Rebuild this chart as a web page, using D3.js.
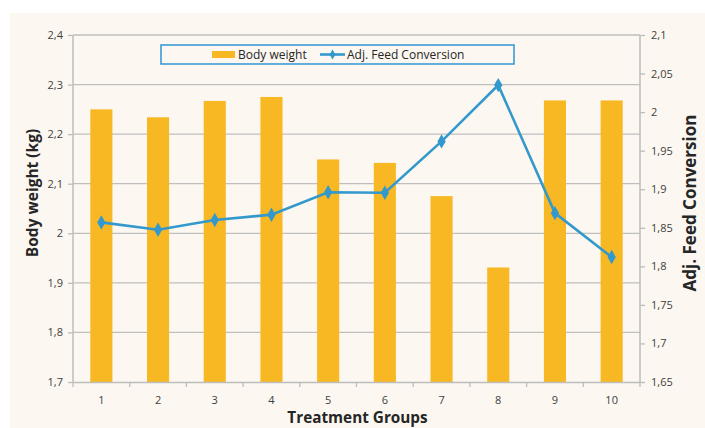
<!DOCTYPE html>
<html>
<head>
<meta charset="utf-8">
<title>Body weight and Adj. Feed Conversion</title>
<style>
  body { margin: 0; background: #fff; }
  svg { display: block; font-family: "Open Sans", "Noto Sans", sans-serif; }
  .tick text { fill: #404040; font-size: 11px; }
</style>
</head>
<body>
<svg width="705" height="428"></svg>
<script src="https://cdn.jsdelivr.net/npm/d3@7"></script>
<script>

var groups = ["1", "2", "3", "4", "5", "6", "7", "8", "9", "10"];
var bodyWeight = [2.250, 2.234, 2.267, 2.275, 2.149, 2.142, 2.075, 1.931, 2.268, 2.268];
var feedConversion = [1.857, 1.8475, 1.860, 1.867, 1.896, 1.8955, 1.962, 2.035, 1.869, 1.812];
var leftTicks = [1.7, 1.8, 1.9, 2.0, 2.1, 2.2, 2.3, 2.4];
var rightTicks = [1.65, 1.7, 1.75, 1.8, 1.85, 1.9, 1.95, 2.0, 2.05, 2.1];

var svg = d3.select("svg"),
    margin = { left: 73, right: 65, top: 35, bottom: 46 },
    width = 705 - margin.left - margin.right,
    height = 428 - margin.top - margin.bottom;

var fmt = function(d) { return String(+d.toFixed(2)).replace(".", ","); };

svg.append("rect")
    .attr("x", 10).attr("y", 13)
    .attr("width", 695).attr("height", 415)
    .attr("fill", "#fcf8f1");

var x = d3.scaleBand().domain(groups).range([0, width]).paddingInner(0.61).paddingOuter(0.305),
    xs = d3.scaleBand().domain(groups).range([0, width]),
    yL = d3.scaleLinear().domain([1.7, 2.4]).range([height, 0]),
    yR = d3.scaleLinear().domain([1.65, 2.1]).range([height, 0]);

var g = svg.append("g").attr("transform", "translate(" + margin.left + "," + margin.top + ")");

// gridlines
g.selectAll(".grid").data(leftTicks.slice(1)).enter().append("line")
    .attr("x1", 0).attr("x2", width)
    .attr("y1", function(d) { return yL(d); })
    .attr("y2", function(d) { return yL(d); })
    .attr("stroke", "#bfbfbf").attr("stroke-width", 1.3);

// bars
g.selectAll(".bar").data(bodyWeight).enter().append("rect")
    .attr("x", function(d, i) { return x(groups[i]); })
    .attr("width", x.bandwidth())
    .attr("y", function(d) { return yL(d); })
    .attr("height", function(d) { return height - yL(d); })
    .attr("fill", "#f8b823");

// axes
var axisColor = "#bdbdbd";
var gl = g.append("g").call(d3.axisLeft(yL).tickValues(leftTicks).tickFormat(fmt).tickSize(5).tickPadding(5));
var gr = g.append("g").attr("transform", "translate(" + width + ",0)")
    .call(d3.axisRight(yR).tickValues(rightTicks).tickFormat(fmt).tickSize(5).tickPadding(6));
var gx = g.append("g").attr("transform", "translate(0," + height + ")")
    .call(d3.axisBottom(xs).tickSize(0).tickPadding(14));

// bottom tick marks at band boundaries
g.selectAll(".xt").data(d3.range(groups.length + 1)).enter().append("line")
    .attr("x1", function(i) { return i * xs.step(); })
    .attr("x2", function(i) { return i * xs.step(); })
    .attr("y1", height).attr("y2", height + 5)
    .attr("stroke", axisColor).attr("stroke-width", 1.3);

[gl, gr, gx].forEach(function(a) {
    a.select(".domain").attr("stroke", axisColor).attr("stroke-width", 1.5);
    a.selectAll(".tick line").attr("stroke", axisColor).attr("stroke-width", 1.3);
    a.selectAll(".tick text").attr("font-family", "'Open Sans', sans-serif");
});
gl.select(".domain").attr("d", "M0," + height + "V0");
gr.select(".domain").attr("d", "M0," + height + "V0");

// line
var cx = function(i) { return xs(groups[i]) + xs.bandwidth() / 2; };
g.append("path")
    .datum(feedConversion)
    .attr("fill", "none")
    .attr("stroke", "#3399cc")
    .attr("stroke-width", 2.6)
    .attr("d", d3.line().x(function(d, i) { return cx(i); }).y(function(d) { return yR(d); }));

g.selectAll(".pt").data(feedConversion).enter().append("path")
    .attr("d", d3.symbol().type(d3.symbolDiamond).size(60))
    .attr("transform", function(d, i) { return "translate(" + cx(i) + "," + yR(d) + ")"; })
    .attr("fill", "#3399cc");

// axis titles
svg.append("text")
    .attr("transform", "translate(38,193) rotate(-90)")
    .attr("text-anchor", "middle")
    .attr("font-size", 15.5).attr("font-weight", "bold").attr("fill", "#262626")
    .text("Body weight (kg)");

svg.append("text")
    .attr("transform", "translate(696,203) rotate(-90)")
    .attr("text-anchor", "middle")
    .attr("font-size", 17).attr("font-weight", "bold").attr("fill", "#262626")
    .text("Adj. Feed Conversion");

svg.append("text")
    .attr("x", margin.left + width / 2 + 1).attr("y", 423)
    .attr("text-anchor", "middle")
    .attr("font-size", 15.3).attr("font-weight", "bold").attr("fill", "#262626")
    .text("Treatment Groups");

// legend
var lg = svg.append("g");
lg.append("rect")
    .attr("x", 161).attr("y", 45).attr("width", 353).attr("height", 19)
    .attr("fill", "#fcf8f1").attr("stroke", "#3a9ad6").attr("stroke-width", 1.6);
lg.append("rect")
    .attr("x", 212).attr("y", 51).attr("width", 23).attr("height", 7)
    .attr("fill", "#f8b823");
lg.append("text")
    .attr("x", 238).attr("y", 59)
    .attr("font-size", 12).attr("fill", "#262626")
    .text("Body weight");
lg.append("line")
    .attr("x1", 320).attr("x2", 345).attr("y1", 54.5).attr("y2", 54.5)
    .attr("stroke", "#3399cc").attr("stroke-width", 2.6);
lg.append("path")
    .attr("d", d3.symbol().type(d3.symbolDiamond).size(30))
    .attr("transform", "translate(332.5,54.5)")
    .attr("fill", "#3399cc");
lg.append("text")
    .attr("x", 347).attr("y", 59)
    .attr("font-size", 12).attr("fill", "#262626")
    .text("Adj. Feed Conversion");

</script>
</body>
</html>
